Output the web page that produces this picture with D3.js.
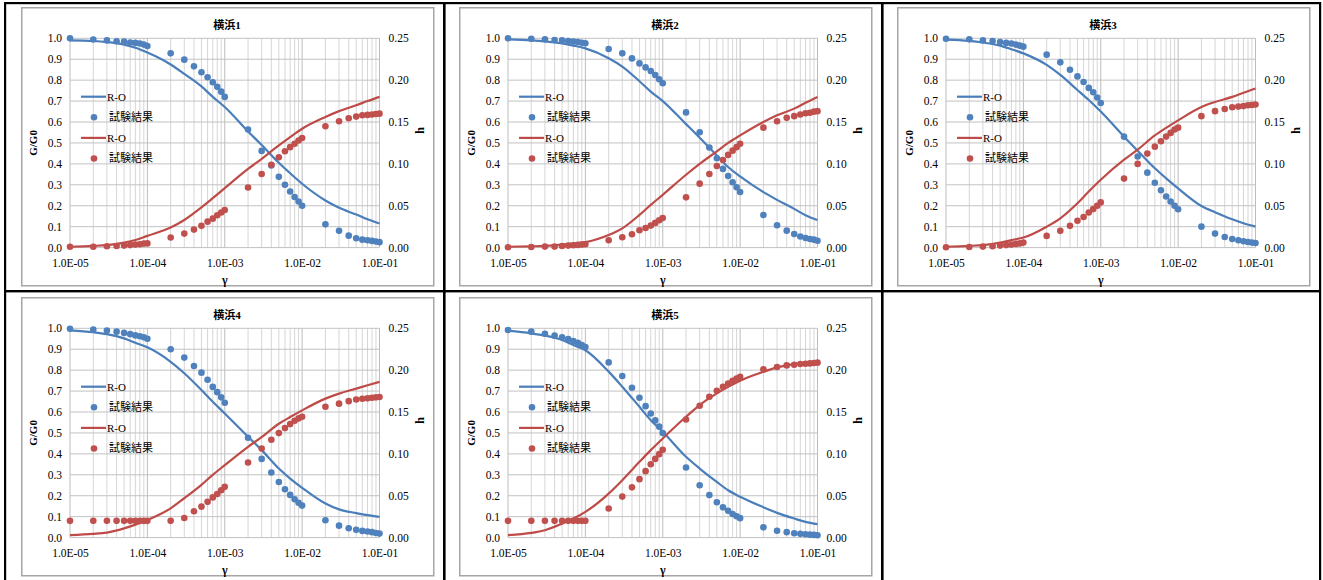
<!DOCTYPE html>
<html>
<head>
<meta charset="utf-8">
<script src="https://cdn.jsdelivr.net/npm/d3@7"></script>
<style>
  body { margin: 0; background: #fff; }
  svg text { font-family: "Liberation Serif", "Noto Sans CJK JP", serif; fill: #000; }
</style>
</head>
<body>
<svg id="sheet" width="1323" height="580"></svg>
<script>
// ---- strain levels (γ) ----
const gammaTest = [
  1e-5, 2e-5, 3e-5, 4e-5, 5e-5, 6e-5, 7e-5, 8e-5, 9e-5,
  1e-4, 2e-4, 3e-4, 4e-4, 5e-4, 6e-4, 7e-4, 8e-4, 9e-4,
  1e-3, 2e-3, 3e-3, 4e-3, 5e-3, 6e-3, 7e-3, 8e-3, 9e-3,
  1e-2, 2e-2, 3e-2, 4e-2, 5e-2, 6e-2, 7e-2, 8e-2, 9e-2,
  1e-1
];
const gammaRO = [
  1e-5, 2e-5, 3e-5, 5e-5, 7e-5,
  1e-4, 2e-4, 3e-4, 5e-4, 7e-4,
  1e-3, 2e-3, 3e-3, 5e-3, 7e-3,
  1e-2, 2e-2, 3e-2, 5e-2, 7e-2,
  1e-1
];

// ---- tick labels ----
const xTickValues = [1e-5, 1e-4, 1e-3, 1e-2, 1e-1];
const xTickLabels = ["1.0E-05", "1.0E-04", "1.0E-03", "1.0E-02", "1.0E-01"];
const gTicks = [0, 0.1, 0.2, 0.3, 0.4, 0.5, 0.6, 0.7, 0.8, 0.9, 1.0];
const hTicks = [0, 0.05, 0.10, 0.15, 0.20, 0.25];

const titles = ["横浜1", "横浜2", "横浜3", "横浜4", "横浜5"];
const legendLabels = ["R-O", "試験結果", "R-O", "試験結果"];

// ---- 横浜1 ----
const y1TestG = [1.0, 0.994, 0.99, 0.986, 0.984, 0.98, 0.978, 0.975, 0.97,
  0.963, 0.928, 0.898, 0.866, 0.838, 0.814, 0.79, 0.768, 0.745,
  0.72, 0.564, 0.462, 0.392, 0.338, 0.30, 0.268, 0.242, 0.22,
  0.20, 0.111, 0.08, 0.057, 0.045, 0.038, 0.035, 0.032, 0.029, 0.026];
const y1TestH = [0.001, 0.001, 0.0016, 0.002, 0.0024, 0.003, 0.0036, 0.004, 0.0048,
  0.005, 0.012, 0.0167, 0.0215, 0.026, 0.031, 0.0346, 0.0386, 0.042,
  0.045, 0.0717, 0.088, 0.099, 0.108, 0.115, 0.12, 0.124, 0.128,
  0.131, 0.145, 0.151, 0.1545, 0.1565, 0.158, 0.1585, 0.159, 0.1595, 0.16];
const y1RoG = [0.99, 0.987, 0.982, 0.97, 0.955, 0.932, 0.875, 0.83, 0.77, 0.72,
  0.672, 0.555, 0.49, 0.405, 0.355, 0.305, 0.225, 0.19, 0.158, 0.135, 0.115];
const y1RoH = [0.001, 0.002, 0.003, 0.006, 0.009, 0.014, 0.024, 0.033, 0.048, 0.059,
  0.071, 0.094, 0.106, 0.122, 0.132, 0.142, 0.156, 0.163, 0.170, 0.175, 0.180];

// ---- 横浜2 ----
const y2TestG = [1.0, 0.998, 0.995, 0.992, 0.99, 0.987, 0.984, 0.982, 0.979,
  0.976, 0.949, 0.928, 0.904, 0.88, 0.861, 0.844, 0.825, 0.804,
  0.785, 0.646, 0.551, 0.478, 0.427, 0.376, 0.342, 0.312, 0.288,
  0.266, 0.156, 0.107, 0.081, 0.065, 0.053, 0.046, 0.041, 0.038, 0.033];
const y2TestH = [0.0004, 0.0008, 0.0012, 0.0012, 0.002, 0.0024, 0.0028, 0.0032, 0.0036,
  0.004, 0.0088, 0.0123, 0.016, 0.0207, 0.0235, 0.0263, 0.0295, 0.0326,
  0.0354, 0.060, 0.0764, 0.088, 0.0975, 0.1047, 0.1107, 0.1158, 0.12,
  0.124, 0.1433, 0.151, 0.155, 0.157, 0.159, 0.1604, 0.161, 0.1624, 0.163];
const y2RoG = [0.995, 0.99, 0.985, 0.975, 0.965, 0.952, 0.905, 0.865, 0.795, 0.745,
  0.70, 0.59, 0.525, 0.44, 0.385, 0.34, 0.265, 0.228, 0.185, 0.155, 0.132];
const y2RoH = [0.001, 0.0015, 0.002, 0.0035, 0.005, 0.0065, 0.015, 0.023, 0.039, 0.051,
  0.063, 0.087, 0.100, 0.115, 0.125, 0.134, 0.150, 0.158, 0.166, 0.173, 0.18];

// ---- 横浜3 ----
const y3TestG = [0.998, 0.995, 0.99, 0.987, 0.982, 0.978, 0.975, 0.97, 0.965,
  0.96, 0.922, 0.885, 0.85, 0.818, 0.791, 0.763, 0.742, 0.717,
  0.691, 0.53, 0.435, 0.358, 0.31, 0.274, 0.244, 0.22, 0.2,
  0.183, 0.1, 0.067, 0.051, 0.041, 0.035, 0.03, 0.027, 0.024, 0.022];
const y3TestH = [0.0004, 0.0008, 0.0012, 0.0016, 0.0024, 0.003, 0.0036, 0.0044, 0.005,
  0.006, 0.014, 0.020, 0.026, 0.032, 0.0366, 0.042, 0.046, 0.050,
  0.054, 0.0824, 0.100, 0.1123, 0.1206, 0.127, 0.1326, 0.137, 0.141,
  0.1433, 0.157, 0.163, 0.1656, 0.1676, 0.1684, 0.169, 0.17, 0.1704, 0.171];
const y3RoG = [0.994, 0.988, 0.98, 0.965, 0.948, 0.928, 0.873, 0.825, 0.753, 0.705,
  0.65, 0.53, 0.463, 0.379, 0.331, 0.283, 0.199, 0.169, 0.135, 0.116, 0.1];
const y3RoH = [0.001, 0.002, 0.003, 0.006, 0.009, 0.012, 0.025, 0.035, 0.053, 0.067,
  0.081, 0.105, 0.117, 0.134, 0.143, 0.152, 0.168, 0.174, 0.180, 0.185, 0.19];

// ---- 横浜4 ----
const y4TestG = [0.998, 0.994, 0.989, 0.984, 0.978, 0.972, 0.966, 0.962, 0.957,
  0.95, 0.9, 0.86, 0.82, 0.788, 0.754, 0.72, 0.695, 0.67,
  0.644, 0.477, 0.376, 0.311, 0.266, 0.231, 0.204, 0.183, 0.166,
  0.153, 0.083, 0.057, 0.045, 0.037, 0.032, 0.029, 0.026, 0.022, 0.019];
const y4TestH = [0.02, 0.02, 0.02, 0.02, 0.02, 0.02, 0.02, 0.02, 0.02,
  0.02, 0.02, 0.0235, 0.0315, 0.037, 0.0427, 0.048, 0.052, 0.0566,
  0.0606, 0.0897, 0.1065, 0.1168, 0.1248, 0.1308, 0.1356, 0.1396, 0.1424,
  0.1443, 0.1563, 0.16, 0.163, 0.165, 0.1659, 0.1663, 0.167, 0.1675, 0.168];
const y4RoG = [0.99, 0.981, 0.972, 0.952, 0.931, 0.909, 0.84, 0.785, 0.705, 0.649,
  0.593, 0.482, 0.418, 0.33, 0.282, 0.238, 0.163, 0.135, 0.117, 0.107, 0.099];
const y4RoH = [0.003, 0.0044, 0.006, 0.011, 0.0155, 0.021, 0.035, 0.047, 0.063, 0.075,
  0.0865, 0.1085, 0.12, 0.136, 0.144, 0.152, 0.166, 0.172, 0.178, 0.182, 0.186];

// ---- 横浜5 ----
const y5TestG = [0.992, 0.984, 0.974, 0.965, 0.957, 0.949, 0.939, 0.931, 0.92,
  0.911, 0.837, 0.772, 0.716, 0.668, 0.628, 0.593, 0.56, 0.53,
  0.5, 0.335, 0.25, 0.203, 0.169, 0.145, 0.128, 0.113, 0.102,
  0.093, 0.049, 0.033, 0.026, 0.021, 0.018, 0.016, 0.014, 0.013, 0.011];
const y5TestH = [0.02, 0.02, 0.02, 0.02, 0.02, 0.02, 0.02, 0.02, 0.02,
  0.02, 0.0347, 0.049, 0.060, 0.0698, 0.0794, 0.0877, 0.094, 0.0997,
  0.105, 0.141, 0.1575, 0.1683, 0.1754, 0.180, 0.184, 0.1874, 0.19,
  0.192, 0.201, 0.2037, 0.2057, 0.2065, 0.2073, 0.2077, 0.2081, 0.2085, 0.209];
const y5RoG = [0.989, 0.976, 0.965, 0.944, 0.92, 0.895, 0.793, 0.721, 0.625, 0.561,
  0.506, 0.386, 0.33, 0.266, 0.226, 0.195, 0.145, 0.118, 0.091, 0.075, 0.064];
const y5RoH = [0.003, 0.0056, 0.0088, 0.0167, 0.0227, 0.0307, 0.0526, 0.0686, 0.0905, 0.1045,
  0.1184, 0.1443, 0.1583, 0.1722, 0.180, 0.1874, 0.198, 0.2033, 0.2073, 0.209, 0.21];

const sites = [
  { title: titles[0], testG: y1TestG, testH: y1TestH, roG: y1RoG, roH: y1RoH },
  { title: titles[1], testG: y2TestG, testH: y2TestH, roG: y2RoG, roH: y2RoH },
  { title: titles[2], testG: y3TestG, testH: y3TestH, roG: y3RoG, roH: y3RoH },
  { title: titles[3], testG: y4TestG, testH: y4TestH, roG: y4RoG, roH: y4RoH },
  { title: titles[4], testG: y5TestG, testH: y5TestH, roG: y5RoG, roH: y5RoH }
];

// ---- layout ----
const BLUE = "#4a7ebb", RED = "#be4b48";
const BLUE_DOT = "#4f81bd", RED_DOT = "#c0504d";
const boxes = [[21, 7], [459, 7], [897, 7], [21, 297], [459, 297]];
const boxW = 412, boxH = 278;
const pL = 49, pT = 31.3, pW = 309.5, pH = 209.3;

const svg = d3.select("#sheet");

// table frame
const frame = svg.append("g").attr("fill", "#000");
frame.append("rect").attr("x", 4).attr("y", 2).attr("width", 1317).attr("height", 2.2);
frame.append("rect").attr("x", 4).attr("y", 2).attr("width", 2.2).attr("height", 578);
frame.append("rect").attr("x", 443).attr("y", 2).attr("width", 2.6).attr("height", 578);
frame.append("rect").attr("x", 881).attr("y", 2).attr("width", 2.6).attr("height", 578);
frame.append("rect").attr("x", 1319).attr("y", 2).attr("width", 2.2).attr("height", 578);
frame.append("rect").attr("x", 4).attr("y", 290).attr("width", 1317).attr("height", 2.4);

sites.forEach((site, i) => {
  const [bx, by] = boxes[i];
  const g = svg.append("g");

  // chart area border
  g.append("rect")
    .attr("x", bx + 0.75).attr("y", by + 0.75)
    .attr("width", boxW).attr("height", boxH)
    .attr("fill", "#fff").attr("stroke", "#a6a6a6").attr("stroke-width", 1.5);

  const left = bx + pL, top = by + pT;
  const x = d3.scaleLog().domain([1e-5, 1e-1]).range([left, left + pW]);
  const yG = d3.scaleLinear().domain([0, 1]).range([top + pH, top]);
  const yH = d3.scaleLinear().domain([0, 0.25]).range([top + pH, top]);

  // vertical grid (all 1..9 multiples per decade)
  const decades = new Set(xTickValues.map(v => v.toExponential()));
  g.append("g").selectAll("line").data(x.ticks()).join("line")
    .attr("x1", d => x(d)).attr("x2", d => x(d))
    .attr("y1", top).attr("y2", top + pH)
    .attr("stroke", d => decades.has(d.toExponential()) ? "#bdbdbd" : "#d6d6d6")
    .attr("stroke-width", 1);

  // horizontal grid
  g.append("g").selectAll("line").data(gTicks).join("line")
    .attr("x1", left).attr("x2", left + pW)
    .attr("y1", d => yG(d)).attr("y2", d => yG(d))
    .attr("stroke", "#c2c2c2").attr("stroke-width", 1);

  // axes (labels only)
  const styleAxis = sel => {
    sel.select(".domain").remove();
    sel.selectAll(".tick line").remove();
    sel.selectAll("text").attr("font-size", 11.5)
      .attr("font-family", "Liberation Serif, serif").attr("fill", "#000");
  };
  g.append("g").attr("transform", `translate(0,${top + pH})`)
    .call(d3.axisBottom(x).tickValues(xTickValues)
      .tickFormat((d, k) => xTickLabels[k]).tickSize(0).tickPadding(11))
    .call(styleAxis);
  g.append("g").attr("transform", `translate(${left},0)`)
    .call(d3.axisLeft(yG).tickValues(gTicks).tickFormat(d3.format(".1f")).tickSize(0).tickPadding(8))
    .call(styleAxis);
  g.append("g").attr("transform", `translate(${left + pW},0)`)
    .call(d3.axisRight(yH).tickValues(hTicks).tickFormat(d3.format(".2f")).tickSize(0).tickPadding(9))
    .call(styleAxis);

  // titles
  g.append("text").attr("x", bx + 206).attr("y", by + 22)
    .attr("text-anchor", "middle").attr("font-size", 11).attr("font-weight", "bold")
    .text(site.title);
  g.append("text").attr("x", left + pW / 2).attr("y", top + pH + 36)
    .attr("text-anchor", "middle").attr("font-size", 12).attr("font-weight", "bold")
    .text("γ");
  g.append("text")
    .attr("transform", `translate(${bx + 16},${top + pH / 2}) rotate(-90)`)
    .attr("text-anchor", "middle").attr("font-size", 11).attr("font-weight", "bold")
    .text("G/G0");
  g.append("text")
    .attr("transform", `translate(${bx + 403},${top + 92}) rotate(-90)`)
    .attr("text-anchor", "middle").attr("font-size", 12).attr("font-weight", "bold")
    .text("h");

  // R-O curves
  const roG = gammaRO.map((v, k) => [v, site.roG[k]]);
  const roH = gammaRO.map((v, k) => [v, site.roH[k]]);
  g.append("path").datum(roG)
    .attr("d", d3.line().x(d => x(d[0])).y(d => yG(d[1])).curve(d3.curveMonotoneX))
    .attr("fill", "none").attr("stroke", BLUE).attr("stroke-width", 2.2);
  g.append("path").datum(roH)
    .attr("d", d3.line().x(d => x(d[0])).y(d => yH(d[1])).curve(d3.curveMonotoneX))
    .attr("fill", "none").attr("stroke", RED).attr("stroke-width", 2.2);

  // test results
  g.append("g").selectAll("circle").data(gammaTest.map((v, k) => [v, site.testG[k]])).join("circle")
    .attr("cx", d => x(d[0])).attr("cy", d => yG(d[1])).attr("r", 3.3).attr("fill", BLUE_DOT);
  g.append("g").selectAll("circle").data(gammaTest.map((v, k) => [v, site.testH[k]])).join("circle")
    .attr("cx", d => x(d[0])).attr("cy", d => yH(d[1])).attr("r", 3.3).attr("fill", RED_DOT);

  // legend
  const lg = g.append("g").attr("transform", `translate(${left + 11},${top + 58.4})`);
  const items = [
    { type: "line", color: BLUE }, { type: "dot", color: BLUE_DOT },
    { type: "line", color: RED }, { type: "dot", color: RED_DOT }
  ];
  items.forEach((it, k) => {
    const yy = k * 20.6;
    if (it.type === "line") {
      lg.append("line").attr("x1", 0).attr("x2", 25).attr("y1", yy).attr("y2", yy)
        .attr("stroke", it.color).attr("stroke-width", 2.2);
    } else {
      lg.append("circle").attr("cx", 13).attr("cy", yy).attr("r", 3.3).attr("fill", it.color);
    }
    lg.append("text").attr("x", it.type === "line" ? 26 : 28).attr("y", yy).attr("dy", "0.36em")
      .attr("font-size", 11).text(legendLabels[k]);
  });
});
</script>
</body>
</html>
